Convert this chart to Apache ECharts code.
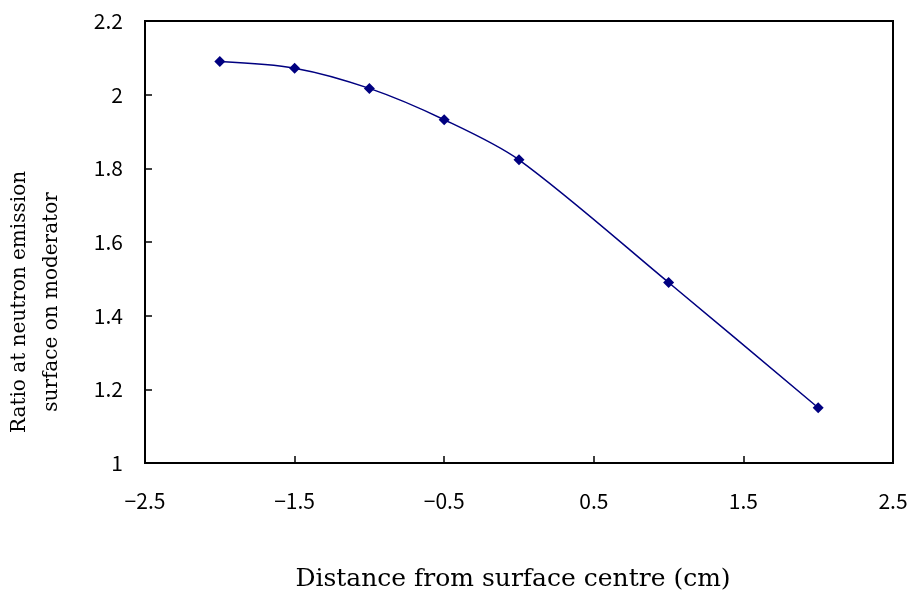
<!DOCTYPE html>
<html>
<head>
<meta charset="utf-8">
<script src="https://cdn.jsdelivr.net/npm/echarts@6/dist/echarts.min.js"></script>
<style>html,body{margin:0;padding:0;background:#fff}#c{width:910px;height:593px}</style>
</head>
<body>
<div id="c"></div>
<script>
const xValues = [-2, -1.5, -1, -0.5, 0, 1, 2];
const yValues = [2.09, 2.072, 2.017, 1.932, 1.823, 1.49, 1.15];
const xTitle = 'Distance from surface centre (cm)';
const yTitle = 'Ratio at neutron emission\nsurface on moderator';

const chart = echarts.init(document.getElementById('c'));
const labelFont = '"Noto Sans CJK JP", "Liberation Sans", sans-serif';
const titleFont = '"DejaVu Serif", "Liberation Serif", serif';
chart.setOption({
  animation: false,
  backgroundColor: '#fff',
  grid: {left: 145, right: 17, top: 21, bottom: 130, show: true, borderColor: '#000', borderWidth: 2,
    containLabel: false, outerBoundsMode: 'none'},
  xAxis: {
    type: 'value', min: -2.5, max: 2.5, interval: 1,
    axisLine: {show: true, onZero: false, lineStyle: {color: '#000', width: 2}},
    axisTick: {show: true, inside: true, length: 7, lineStyle: {color: '#000', width: 1.5}},
    splitLine: {show: false},
    axisLabel: {color: '#000', fontSize: 21, fontFamily: labelFont, margin: 28,
      formatter: v => (v < 0 ? '\u2212' + Math.abs(v) : String(v))},
    name: xTitle, nameLocation: 'middle', nameGap: 104,
    nameTextStyle: {color: '#000', fontSize: 25, fontFamily: titleFont, padding: [0, 12, 0, 0]}
  },
  yAxis: {
    type: 'value', min: 1, max: 2.2, interval: 0.2,
    axisLine: {show: true, onZero: false, lineStyle: {color: '#000', width: 2}},
    axisTick: {show: true, inside: true, length: 7, lineStyle: {color: '#000', width: 1.5}},
    splitLine: {show: false},
    axisLabel: {color: '#000', fontSize: 21, fontFamily: labelFont, margin: 22,
      formatter: v => String(Math.round(v * 10) / 10)}
  },
  graphic: [{
    type: 'text', rotation: Math.PI / 2,
    x: 36, y: 302,
    style: {text: yTitle, fill: '#000', font: '20px ' + titleFont, align: 'center', verticalAlign: 'middle', lineHeight: 32}
  }],
  series: [{
    type: 'line',
    data: xValues.map((x, i) => [x, yValues[i]]),
    smooth: 0.3,
    symbol: 'diamond', symbolSize: 11,
    lineStyle: {color: '#000080', width: 1.5},
    itemStyle: {color: '#000080'}
  }]
});
</script>
</body>
</html>
